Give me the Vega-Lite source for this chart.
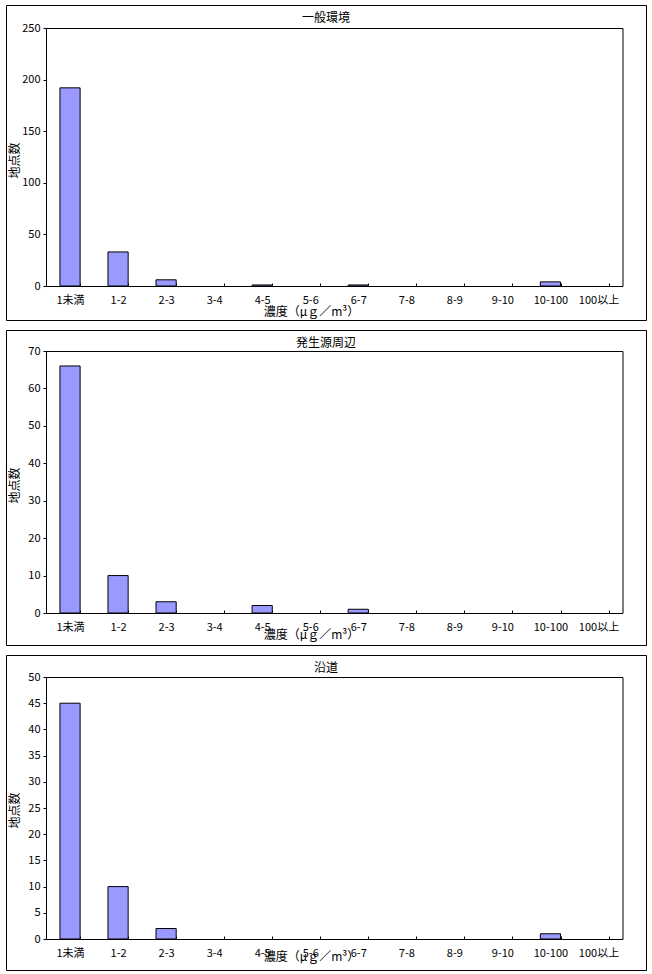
{
  "$schema": "https://vega.github.io/schema/vega-lite/v6.json",
  "padding": {"left": 5, "top": 4, "right": 5, "bottom": 0},
  "background": "white",
  "datasets": {
    "d": [
      {"panel": "一般環境", "range": "1未満", "count": 192},
      {"panel": "一般環境", "range": "1-2", "count": 33},
      {"panel": "一般環境", "range": "2-3", "count": 6},
      {"panel": "一般環境", "range": "3-4", "count": 0},
      {"panel": "一般環境", "range": "4-5", "count": 1},
      {"panel": "一般環境", "range": "5-6", "count": 0},
      {"panel": "一般環境", "range": "6-7", "count": 1},
      {"panel": "一般環境", "range": "7-8", "count": 0},
      {"panel": "一般環境", "range": "8-9", "count": 0},
      {"panel": "一般環境", "range": "9-10", "count": 0},
      {"panel": "一般環境", "range": "10-100", "count": 4},
      {"panel": "一般環境", "range": "100以上", "count": 0},
      {"panel": "発生源周辺", "range": "1未満", "count": 66},
      {"panel": "発生源周辺", "range": "1-2", "count": 10},
      {"panel": "発生源周辺", "range": "2-3", "count": 3},
      {"panel": "発生源周辺", "range": "3-4", "count": 0},
      {"panel": "発生源周辺", "range": "4-5", "count": 2},
      {"panel": "発生源周辺", "range": "5-6", "count": 0},
      {"panel": "発生源周辺", "range": "6-7", "count": 1},
      {"panel": "発生源周辺", "range": "7-8", "count": 0},
      {"panel": "発生源周辺", "range": "8-9", "count": 0},
      {"panel": "発生源周辺", "range": "9-10", "count": 0},
      {"panel": "発生源周辺", "range": "10-100", "count": 0},
      {"panel": "発生源周辺", "range": "100以上", "count": 0},
      {"panel": "沿道", "range": "1未満", "count": 45},
      {"panel": "沿道", "range": "1-2", "count": 10},
      {"panel": "沿道", "range": "2-3", "count": 2},
      {"panel": "沿道", "range": "3-4", "count": 0},
      {"panel": "沿道", "range": "4-5", "count": 0},
      {"panel": "沿道", "range": "5-6", "count": 0},
      {"panel": "沿道", "range": "6-7", "count": 0},
      {"panel": "沿道", "range": "7-8", "count": 0},
      {"panel": "沿道", "range": "8-9", "count": 0},
      {"panel": "沿道", "range": "9-10", "count": 0},
      {"panel": "沿道", "range": "10-100", "count": 1},
      {"panel": "沿道", "range": "100以上", "count": 0}
    ]
  },
  "vconcat": [
    {
      "width": 640, "height": 315,
      "title": {"text": "一般環境", "anchor": "middle", "frame": "group", "offset": -20, "baseline": "top"},
      "data": {"name": "d"},
      "transform": [{"filter": "datum.panel === '一般環境'"}],
      "resolve": {"scale": {"x": "shared", "y": "shared"}, "axis": {"x": "independent", "y": "independent"}},
      "layer": [
        {
          "transform": [{"filter": "datum.count > 0"}],
          "mark": {"type": "bar", "fill": "#9999ff", "stroke": "black", "strokeWidth": 1},
          "encoding": {
            "x": {"field": "range", "type": "nominal", "sort": null,
              "scale": {"domain": ["1未満","1-2","2-3","3-4","4-5","5-6","6-7","7-8","8-9","9-10","10-100","100以上"], "range": [40, 616.5], "paddingInner": 0.58, "paddingOuter": 0.29},
              "axis": {"orient": "bottom", "offset": -34, "tickSize": -3, "tickBand": "extent", "labelPadding": 11, "labelAngle": 0, "title": "濃度（μｇ／m³）", "titleX": 305, "titleY": 25, "titleBaseline": "middle", "titleAlign": "center"}},
            "y": {"field": "count", "type": "quantitative",
              "scale": {"domain": [0, 250], "range": [281, 23], "nice": false},
              "axis": {"orient": "left", "offset": -40, "values": [0, 50, 100, 150, 200, 250], "tickSize": 3, "labelPadding": 3, "title": "地点数", "titleX": -31.5, "titleY": 155, "titleAngle": -90, "titleAlign": "center", "titleBaseline": "middle"}}
          }
        },
        {
          "mark": {"type": "bar", "opacity": 0},
          "encoding": {
            "x": {"field": "range", "type": "nominal", "sort": null,
              "axis": {"orient": "top", "offset": -23, "labels": false, "ticks": false, "title": null}},
            "y": {"field": "count", "type": "quantitative",
              "axis": {"orient": "right", "offset": -23.5, "labels": false, "ticks": false, "title": null}}
          }
        }
      ]
    },
    {
      "width": 640, "height": 315,
      "title": {"text": "発生源周辺", "anchor": "middle", "frame": "group", "offset": -20, "baseline": "top"},
      "data": {"name": "d"},
      "transform": [{"filter": "datum.panel === '発生源周辺'"}],
      "resolve": {"scale": {"x": "shared", "y": "shared"}, "axis": {"x": "independent", "y": "independent"}},
      "layer": [
        {
          "transform": [{"filter": "datum.count > 0"}],
          "mark": {"type": "bar", "fill": "#9999ff", "stroke": "black", "strokeWidth": 1},
          "encoding": {
            "x": {"field": "range", "type": "nominal", "sort": null,
              "scale": {"domain": ["1未満","1-2","2-3","3-4","4-5","5-6","6-7","7-8","8-9","9-10","10-100","100以上"], "range": [40, 616.5], "paddingInner": 0.58, "paddingOuter": 0.29},
              "axis": {"orient": "bottom", "offset": -32, "tickSize": -3, "tickBand": "extent", "labelPadding": 11, "labelAngle": 0, "title": "濃度（μｇ／m³）", "titleX": 305, "titleY": 21, "titleBaseline": "middle", "titleAlign": "center"}},
            "y": {"field": "count", "type": "quantitative",
              "scale": {"domain": [0, 70], "range": [283, 21], "nice": false},
              "axis": {"orient": "left", "offset": -40, "values": [0, 10, 20, 30, 40, 50, 60, 70], "tickSize": 3, "labelPadding": 3, "title": "地点数", "titleX": -31.5, "titleY": 155, "titleAngle": -90, "titleAlign": "center", "titleBaseline": "middle"}}
          }
        },
        {
          "mark": {"type": "bar", "opacity": 0},
          "encoding": {
            "x": {"field": "range", "type": "nominal", "sort": null,
              "axis": {"orient": "top", "offset": -21, "labels": false, "ticks": false, "title": null}},
            "y": {"field": "count", "type": "quantitative",
              "axis": {"orient": "right", "offset": -23.5, "labels": false, "ticks": false, "title": null}}
          }
        }
      ]
    },
    {
      "width": 640, "height": 315,
      "title": {"text": "沿道", "anchor": "middle", "frame": "group", "offset": -20, "baseline": "top"},
      "data": {"name": "d"},
      "transform": [{"filter": "datum.panel === '沿道'"}],
      "resolve": {"scale": {"x": "shared", "y": "shared"}, "axis": {"x": "independent", "y": "independent"}},
      "layer": [
        {
          "transform": [{"filter": "datum.count > 0"}],
          "mark": {"type": "bar", "fill": "#9999ff", "stroke": "black", "strokeWidth": 1},
          "encoding": {
            "x": {"field": "range", "type": "nominal", "sort": null,
              "scale": {"domain": ["1未満","1-2","2-3","3-4","4-5","5-6","6-7","7-8","8-9","9-10","10-100","100以上"], "range": [40, 616.5], "paddingInner": 0.58, "paddingOuter": 0.29},
              "axis": {"orient": "bottom", "offset": -31, "tickSize": -3, "tickBand": "extent", "labelPadding": 11, "labelAngle": 0, "title": "濃度（μｇ／m³）", "titleX": 305, "titleY": 17, "titleBaseline": "middle", "titleAlign": "center"}},
            "y": {"field": "count", "type": "quantitative",
              "scale": {"domain": [0, 50], "range": [284, 22], "nice": false},
              "axis": {"orient": "left", "offset": -40, "values": [0, 5, 10, 15, 20, 25, 30, 35, 40, 45, 50], "tickSize": 3, "labelPadding": 3, "title": "地点数", "titleX": -31.5, "titleY": 155, "titleAngle": -90, "titleAlign": "center", "titleBaseline": "middle"}}
          }
        },
        {
          "mark": {"type": "bar", "opacity": 0},
          "encoding": {
            "x": {"field": "range", "type": "nominal", "sort": null,
              "axis": {"orient": "top", "offset": -22, "labels": false, "ticks": false, "title": null}},
            "y": {"field": "count", "type": "quantitative",
              "axis": {"orient": "right", "offset": -23.5, "labels": false, "ticks": false, "title": null}}
          }
        }
      ]
    }
  ],
  "config": {
    "font": "Noto Sans CJK JP",
    "view": {"stroke": "black", "strokeWidth": 1},
    "concat": {"spacing": 8},
    "axis": {"grid": false, "domainColor": "black", "domainWidth": 1, "tickColor": "black", "labelColor": "black", "titleColor": "black", "labelFontSize": 11, "titleFontSize": 12, "titleFontWeight": "normal", "labelFont": "Noto Sans CJK JP", "titleFont": "Noto Sans CJK JP"},
    "title": {"fontSize": 12, "fontWeight": "normal", "color": "black", "font": "Noto Sans CJK JP"}
  }
}
